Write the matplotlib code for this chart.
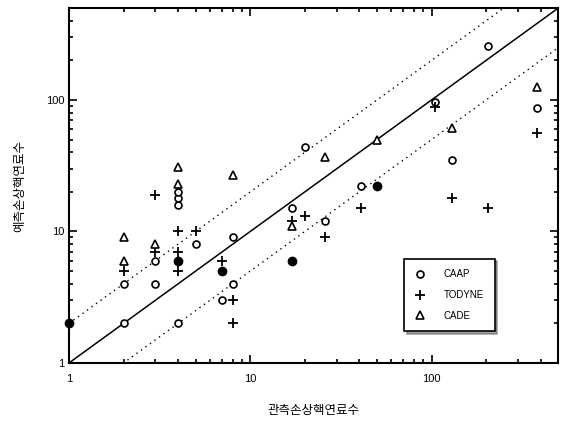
import numpy as np
import matplotlib as mpl
import matplotlib.pyplot as plt
from matplotlib import ticker

mpl.rcParams['font.family'] = ['Liberation Sans', 'Noto Sans CJK KR', 'DejaVu Sans']

caap_obs = [2, 2, 3, 3, 4, 4, 4, 4, 5, 7, 8, 8, 17, 20, 26, 41, 105, 205, 130, 380]
caap_pred = [2, 4, 4, 6, 2, 16, 18, 20, 8, 3, 4, 9, 15, 44, 12, 22, 97, 257, 35, 87]

tod_obs = [2, 3, 3, 4, 4, 4, 5, 7, 8, 8, 17, 20, 26, 41, 105, 130, 205, 380]
tod_pred = [5, 7, 19, 5, 7, 10, 10, 6, 3, 2, 12, 13, 9, 15, 88, 18, 15, 56]

cade_obs = [2, 2, 3, 4, 4, 8, 17, 26, 50, 130, 380]
cade_pred = [6, 9, 8, 23, 31, 27, 11, 37, 50, 61, 125]

# overlapping markers that print as solid dots
over_obs = [1, 4, 7, 17, 50]
over_pred = [2, 6, 5, 6, 22]

labels = ['CAAP', 'TODYNE', 'CADE']

fig = plt.figure(figsize=(5.61, 4.26), dpi=100)
ax = fig.add_axes([0.123, 0.148, 0.872, 0.833])
ax.set_xscale('log')
ax.set_yscale('log')
ax.set_xlim(1, 500)
ax.set_ylim(1, 500)

line_x = np.array([1, 500])
ax.plot(line_x, line_x, color='black', lw=1.1, zorder=1)
ax.plot(line_x, line_x * 2, color='black', lw=1.0, ls=(0, (1, 3)), zorder=1)
ax.plot(line_x, line_x / 2, color='black', lw=1.0, ls=(0, (1, 3)), zorder=1)

ax.plot(caap_obs, caap_pred, 'o', ms=5, mfc='white', mec='black', mew=1.2,
        label=labels[0], clip_on=False, zorder=3)
ax.plot(tod_obs, tod_pred, '+', ms=7, mec='black', mew=1.3,
        label=labels[1], clip_on=False, zorder=3)
ax.plot(cade_obs, cade_pred, '^', ms=5.5, mfc='white', mec='black', mew=1.2,
        label=labels[2], clip_on=False, zorder=3)
ax.plot(over_obs, over_pred, 'o', ms=6, mfc='black', mec='black',
        clip_on=False, zorder=4)

ax.xaxis.set_major_formatter(ticker.FuncFormatter(lambda v, p: f'{v:g}'))
ax.yaxis.set_major_formatter(ticker.FuncFormatter(lambda v, p: f'{v:g}'))
ax.xaxis.set_minor_formatter(ticker.NullFormatter())
ax.yaxis.set_minor_formatter(ticker.NullFormatter())
ax.tick_params(which='both', direction='in', top=True, right=True,
               labelsize=8, width=1.2)
ax.tick_params(which='major', length=6)
ax.tick_params(which='minor', length=3)
ax.tick_params(axis='x', pad=8)
for s in ax.spines.values():
    s.set_linewidth(1.5)

ax.set_xlabel('관측손상핵연료수', fontsize=9, labelpad=14,
              family=['Noto Sans CJK KR', 'DejaVu Sans'])
ax.set_ylabel('예측손상핵연료수', fontsize=9, labelpad=14,
              family=['Noto Sans CJK KR', 'DejaVu Sans'])

leg = ax.legend(loc='lower right', bbox_to_anchor=(0.88, 0.075), fontsize=7,
                frameon=True, fancybox=False, shadow=True, edgecolor='black',
                borderpad=1.1, labelspacing=1.1, handletextpad=1.8,
                handlelength=1.2)
leg.get_frame().set_linewidth(1.2)

fig.savefig('out.png', dpi=100)
